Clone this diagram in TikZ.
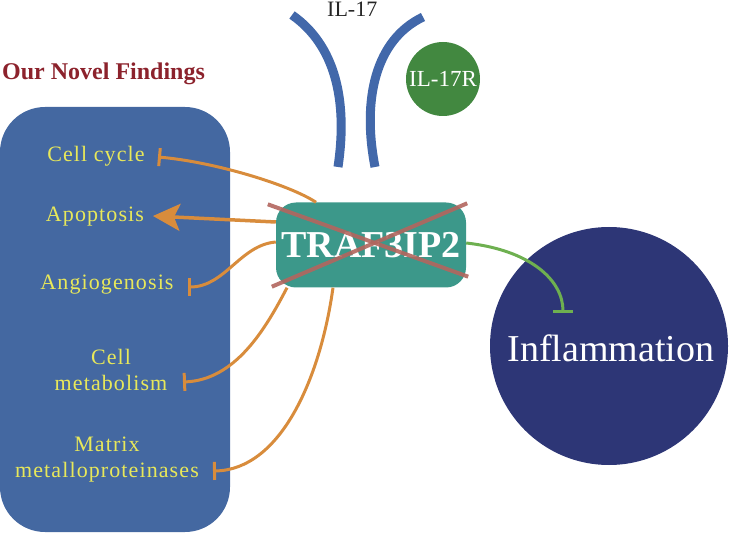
\documentclass[tikz,border=0pt]{standalone}
\usepackage{fontspec}
\setmainfont{Liberation Serif}
\usetikzlibrary{arrows.meta}

\definecolor{panelblue}{RGB}{68,104,161}
\definecolor{arcblue}{RGB}{66,104,170}
\definecolor{trafteal}{RGB}{60,152,138}
\definecolor{inflnavy}{RGB}{45,54,118}
\definecolor{rgreen}{RGB}{66,136,64}
\definecolor{inhgreen}{RGB}{110,176,80}
\definecolor{linkorange}{RGB}{216,140,60}
\definecolor{itemyellow}{RGB}{232,232,90}
\definecolor{crossred}{RGB}{178,102,94}
\definecolor{titlered}{RGB}{140,34,44}

\begin{document}
\begin{tikzpicture}[x=1pt,y=-1pt,
  item/.style={text=itemyellow,inner sep=0pt,anchor=base,align=center,
    font=\fontsize{22}{26}\selectfont\addfontfeature{LetterSpace=5}},
  inh/.style={draw=linkorange,line width=3pt,-{Bar[width=18pt]}},
  cross/.style={draw=crossred,line width=4pt,opacity=0.9}]

\useasboundingbox (0,0) rectangle (730,534);

% ---------------------------
% left panel: findings
% ---------------------------
\fill[panelblue,rounded corners=45pt] (0,107) rectangle (230,532);
\node[anchor=base west,inner sep=0pt,text=titlered,
  font=\fontsize{24}{28}\selectfont\bfseries] (title) at (2,80) {Our Novel Findings};

\node[item] (cycle) at (96,162) {Cell cycle};
\node[item] (apop)  at (95,222) {Apoptosis};
\node[item] (angio) at (107,290) {Angiogenosis};
\node[item] (metab) at (111,390) {Cell\\metabolism};
\node[item] (mmp)   at (107,477) {Matrix\\metalloproteinases};

\coordinate (cycleT) at (158,157);
\coordinate (apopT)  at (153,216);
\coordinate (angioT) at (188,287);
\coordinate (metabT) at (183,382);
\coordinate (mmpT)   at (213,471);

% ---------------------------
% IL-17 and its receptor
% ---------------------------
\draw[arcblue,line width=9pt] (292,15) .. controls (335,45) and (348,100) .. (338,167);
\draw[arcblue,line width=9pt] (423,17) .. controls (375,40) and (362,100) .. (375,167);
\node[anchor=base west,inner sep=0pt,font=\fontsize{22}{26}\selectfont,text=black!85]
  (il17) at (327,17) {IL-17};
\node[circle,fill=rgreen,minimum size=74pt,inner sep=0pt,text=white,
  font=\fontsize{23}{26}\selectfont] (il17r) at (443,79) {IL-17R};

% ---------------------------
% inflammation
% ---------------------------
\node[circle,fill=inflnavy,minimum size=238pt,inner sep=0pt] (infl) at (609,346) {};
\node[anchor=base,inner sep=0pt,text=white,font=\fontsize{38}{40}\selectfont]
  (infltext) at (611,361) {Inflammation};
\coordinate (inflT) at (563,313);

% ---------------------------
% TRAF3IP2
% ---------------------------
\node[fill=trafteal,rounded corners=20pt,minimum width=190pt,minimum height=85pt,
  inner sep=0pt,text=white,font=\fontsize{38}{40}\selectfont\bfseries]
  (traf) at (371,245) {TRAF3IP2};

\draw[inh] ([xshift=-55pt]traf.north) .. controls (290,185) and (215,162) .. (cycleT);
\draw[draw=linkorange,line width=3.5pt,-{Stealth[length=27pt,width=27pt,inset=6pt]}]
  ([yshift=23pt]traf.west) -- (apopT);
\draw[inh] ([yshift=3pt]traf.west) .. controls (240,245) and (225,287) .. (angioT);
\draw[inh] ([xshift=-84pt]traf.south) .. controls (265,330) and (235,380) .. (metabT);
\draw[inh] ([xshift=-38pt]traf.south) .. controls (320,380) and (280,470) .. (mmpT);
\draw[draw=inhgreen,line width=3pt,-{Bar[width=20pt]}]
  ([yshift=2pt]traf.east) .. controls (530,250) and (563,280) .. (inflT);

% cross over the box
\draw[cross] ([shift={(-8pt,-2pt)}]traf.north west) -- ([shift={(2pt,11pt)}]traf.south east);
\draw[cross] ([shift={(-4pt,1pt)}]traf.south west) -- ([shift={(1pt,-1pt)}]traf.north east);

\end{tikzpicture}
\end{document}
